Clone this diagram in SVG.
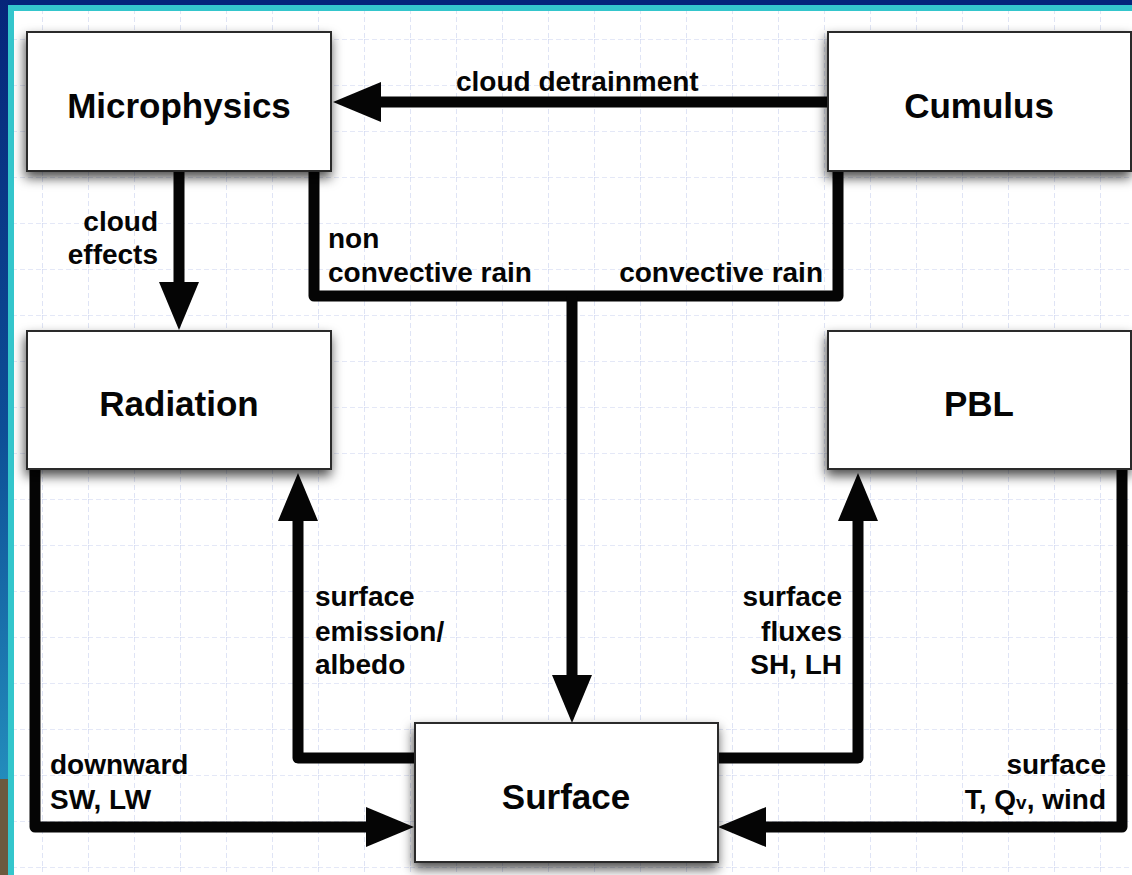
<svg xmlns="http://www.w3.org/2000/svg" width="1132" height="875" viewBox="0 0 1132 875">
  <defs>
    <style>
      .box { fill: #ffffff; stroke: #2a2a2a; stroke-width: 2; filter: url(#shadow); }
      .title { font-family: "Liberation Sans", Arial, sans-serif; font-weight: bold; font-size: 35px; fill: #050505; text-anchor: middle; }
      .lbl { font-family: "Liberation Sans", Arial, sans-serif; font-weight: bold; font-size: 28px; fill: #050505; }
      .end { text-anchor: end; }
      .wire { fill: none; stroke: #050505; stroke-width: 11; stroke-linejoin: round; }
      .arrow { marker-end: url(#head); }
      .grid { stroke: #c9d2ef; stroke-width: 1.2; stroke-dasharray: 5 3; }
    </style>
    <marker id="head" markerUnits="userSpaceOnUse" markerWidth="50" markerHeight="40" viewBox="0 0 48 40" refX="0" refY="20" orient="auto">
      <path d="M0,0 L48,20 L0,40 Z" fill="#050505"/>
    </marker>
    <filter id="shadow" x="-10%" y="-15%" width="120%" height="140%">
      <feDropShadow dx="-1" dy="6" stdDeviation="6" flood-color="#000" flood-opacity="0.7"/>
    </filter>
    <pattern id="gridpat" patternUnits="userSpaceOnUse" x="42" y="39" width="46" height="46">
      <line class="grid" x1="0" y1="0" x2="0" y2="46"/>
      <line class="grid" x1="0" y1="0" x2="46" y2="0"/>
    </pattern>
    <linearGradient id="leftband" x1="0" y1="0" x2="0" y2="1">
      <stop offset="0" stop-color="#06257a"/>
      <stop offset="0.55" stop-color="#0d4e96"/>
      <stop offset="1" stop-color="#238cbc"/>
    </linearGradient>
  </defs>

  <g id="background">
    <rect x="0" y="0" width="1132" height="875" fill="#ffffff"/>
    <rect x="14" y="11" width="1118" height="864" fill="url(#gridpat)"/>
    <rect x="0" y="0" width="1132" height="5" fill="#04247a"/>
    <rect x="8" y="5" width="1124" height="6" fill="#34c6cc"/>
    <rect x="0" y="0" width="8" height="779" fill="url(#leftband)"/>
    <rect x="0" y="779" width="8" height="96" fill="#6b5a3e"/>
    <rect x="8" y="5" width="6" height="870" fill="#34c6cc"/>
  </g>

  <g id="connectors">
    <path class="wire arrow" d="M828,102 L381,102"/>
    <path class="wire arrow" d="M179,171 L179,282"/>
    <path class="wire" d="M314,171 L314,296 L838,296 L838,171"/>
    <path class="wire arrow" d="M572,296 L572,675"/>
    <path class="wire arrow" d="M415,758 L298,758 L298,521"/>
    <path class="wire arrow" d="M718,758 L858,758 L858,521"/>
    <path class="wire arrow" d="M35,469 L35,827 L366,827"/>
    <path class="wire arrow" d="M1122,469 L1122,827 L766,827"/>

    <text class="lbl" x="456" y="91">cloud detrainment</text>
    <text class="lbl end" x="158" y="231">cloud</text>
    <text class="lbl end" x="158" y="264">effects</text>
    <text class="lbl" x="328" y="248">non</text>
    <text class="lbl" x="328" y="282">convective rain</text>
    <text class="lbl end" x="823" y="282">convective rain</text>
    <text class="lbl" x="315" y="606">surface</text>
    <text class="lbl" x="315" y="641">emission/</text>
    <text class="lbl" x="315" y="674">albedo</text>
    <text class="lbl end" x="842" y="606">surface</text>
    <text class="lbl end" x="842" y="641">fluxes</text>
    <text class="lbl end" x="842" y="674">SH, LH</text>
    <text class="lbl" x="50" y="774">downward</text>
    <text class="lbl" x="50" y="809">SW, LW</text>
    <text class="lbl end" x="1106" y="774">surface</text>
    <text class="lbl end" x="1106" y="809">T, Q<tspan font-size="19">v</tspan>, wind</text>
  </g>

  <g id="microphysics">
    <rect class="box" x="27" y="32" width="304" height="139"/>
    <text class="title" x="179" y="118">Microphysics</text>
  </g>
  <g id="cumulus">
    <rect class="box" x="828" y="32" width="303" height="139"/>
    <text class="title" x="979" y="118">Cumulus</text>
  </g>
  <g id="radiation">
    <rect class="box" x="27" y="331" width="304" height="138"/>
    <text class="title" x="179" y="416">Radiation</text>
  </g>
  <g id="pbl">
    <rect class="box" x="828" y="331" width="303" height="138"/>
    <text class="title" x="979" y="416">PBL</text>
  </g>
  <g id="surface">
    <rect class="box" x="415" y="723" width="303" height="139"/>
    <text class="title" x="566" y="809">Surface</text>
  </g>
</svg>
